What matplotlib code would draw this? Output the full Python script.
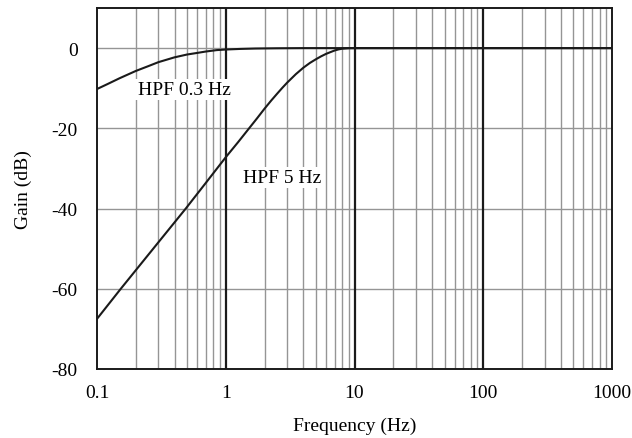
import numpy as np
import matplotlib
matplotlib.use("Agg")
import matplotlib.pyplot as plt
from matplotlib.ticker import FixedLocator, NullFormatter

plt.rcParams['font.family'] = ['Liberation Serif', 'DejaVu Serif']

# Gain curves of the two high-pass filter settings
freq_03 = [0.1, 0.12, 0.15, 0.2, 0.25, 0.3, 0.4, 0.5, 0.6, 0.7, 0.85, 1.0,
           1.3, 1.7, 2.5, 4.0, 10.0, 100.0, 1000.0]
gain_03 = [-10.2, -9.0, -7.5, -5.7, -4.5, -3.5, -2.3, -1.6, -1.2, -0.85, -0.5, -0.35,
           -0.2, -0.1, -0.04, 0.0, 0.0, 0.0, 0.0]

freq_5 = [0.1, 0.153, 0.3, 0.489, 0.7, 1.0, 1.25, 1.5, 1.75, 2.0, 2.25, 2.5, 2.75,
          3.0, 3.5, 4.0, 4.5, 5.0, 5.5, 6.0, 6.5, 7.0, 7.5, 8.0, 9.0, 10.0,
          100.0, 1000.0]
gain_5 = [-67.5, -60.0, -48.4, -40.0, -33.6, -27.2, -23.4, -20.2, -17.5, -15.1, -13.1, -11.4, -9.9,
          -8.6, -6.5, -4.9, -3.7, -2.8, -2.05, -1.45, -1.0, -0.6, -0.33, -0.15, -0.02, 0.0,
          0.0, 0.0]

x_ticks = [0.1, 1, 10, 100, 1000]
x_tick_labels = ["0.1", "1", "10", "100", "1000"]
y_ticks = [0, -20, -40, -60, -80]
y_tick_labels = ["0", "-20", "-40", "-60", "-80"]

fig = plt.figure(figsize=(6.32, 4.39), dpi=100)
ax = fig.add_axes([0.1535, 0.1572, 0.8149, 0.8223])

ax.set_xscale('log')
ax.set_xlim(0.1, 1000)
ax.set_ylim(-80, 10)

# minor decade grid (gray)
minor = [m * d for d in [0.1, 1, 10, 100] for m in range(2, 10)]
for xv in minor:
    ax.axvline(xv, color='#959595', lw=1.0, zorder=1)
for yv in [0, -20, -40, -60]:
    ax.axhline(yv, color='#959595', lw=1.0, zorder=1)
# decade lines (black)
for xv in [1, 10, 100]:
    ax.axvline(xv, color='#1a1a1a', lw=1.6, zorder=2)

ax.plot(freq_03, gain_03, color='#1a1a1a', lw=1.5, zorder=4)
ax.plot(freq_5, gain_5, color='#1a1a1a', lw=1.5, zorder=4)

ax.text(0.474, -10.3, "HPF 0.3 Hz", fontsize=14, ha='center', va='center', zorder=3,
        bbox=dict(facecolor='white', edgecolor='none', pad=1.5))
ax.text(2.74, -32.2, "HPF 5 Hz", fontsize=14, ha='center', va='center', zorder=3,
        bbox=dict(facecolor='white', edgecolor='none', pad=1.5))

ax.xaxis.set_major_locator(FixedLocator(x_ticks))
ax.set_xticklabels(x_tick_labels)
ax.xaxis.set_minor_locator(FixedLocator(minor))
ax.xaxis.set_minor_formatter(NullFormatter())
ax.set_yticks(y_ticks)
ax.set_yticklabels(y_tick_labels)
ax.tick_params(which='both', length=0, labelsize=14)
ax.tick_params(axis='x', pad=11)
ax.tick_params(axis='y', pad=14)

for s in ax.spines.values():
    s.set_linewidth(1.4)
    s.set_color('#1a1a1a')
    s.set_zorder(5)

ax.set_xlabel("Frequency (Hz)", fontsize=14, labelpad=11)
ax.set_ylabel("Gain (dB)", fontsize=14, labelpad=14)

fig.savefig("out.png", dpi=100, facecolor='white')
